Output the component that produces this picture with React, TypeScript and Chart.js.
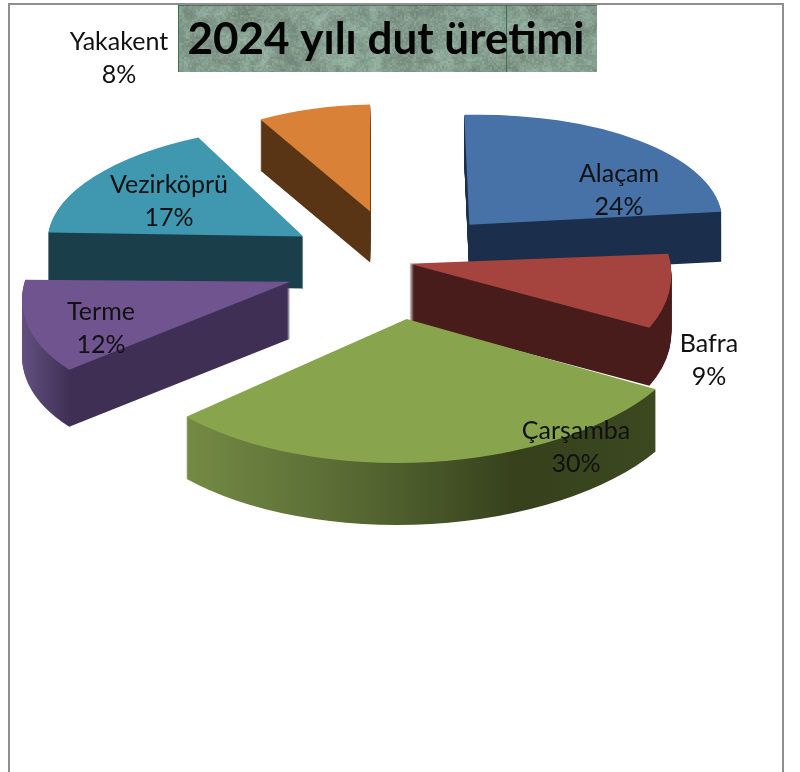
import React, { useEffect, useRef } from "react";
import { Chart, registerables } from "chart.js";

Chart.register(...registerables);

const TITLE = "2024 yılı dut üretimi";
const categories = ["Alaçam", "Bafra", "Çarşamba", "Terme", "Vezirköprü", "Yakakent"];
const shares = [24, 9, 30, 12, 17, 8];
const topColors = ["#4672a8", "#a5433f", "#88a44c", "#70548f", "#3f97b0", "#d98137"];

// 3D look: explode distance, nudge, wall height, perspective lens [a, c, b, d] per slice, paint order
const explode = [110, 27, 117, 102, 96, 100];
const nudge = [[8, 3], [-3, -1], [6, -1], [-1, 1], [0, -1], [9, -2]];
const wallDepth = [50, 58, 62, 57, 52, 51];
const lens = [
  [252.8, -6.1, 5, 110],
  [261, -1.5, 23.5, 135.5],
  [291, 1, -12, 144],
  [265, 2, -40.6, 130.8],
  [255, 4, -20.4, 110.8],
  [227.7, -3.6, 0, 107],
];
const paintOrder = [5, 4, 0, 3, 1, 2];
const BASE_TILT = 0.5;
const RADIUS = 260;

// wall gradient stops: [device x, colour]
const wallStops: [number, string][][] = [
  [[0, "#1b2e4b"], [800, "#1b2e4b"]],
  [[0, "#471c1a"], [800, "#471c1a"]],
  [[188, "#738a44"], [350, "#586a33"], [515, "#36411c"], [655, "#3b4820"]],
  [[22, "#63507f"], [70, "#3f2f54"], [290, "#3f2f54"]],
  [[0, "#1a3f4a"], [800, "#1a3f4a"]],
  [[0, "#5a3515"], [800, "#5a3515"]],
];

const labelCentres = [
  [619, 174], [709, 344], [576, 431], [101, 312], [169, 185], [119, 42],
];

function paintTexture(ctx: CanvasRenderingContext2D, x: number, y: number, w: number, h: number) {
  const hash = (a: number, b: number) => {
    const s = Math.sin(a * 127.1 + b * 311.7) * 43758.5453;
    return s - Math.floor(s);
  };
  ctx.save();
  ctx.beginPath();
  ctx.rect(x, y, w, h);
  ctx.clip();
  ctx.fillStyle = "#83a090";
  ctx.fillRect(x, y, w, h);
  for (const [step, amp, blur] of [[16, 30, 6], [6, 24, 2], [2, 14, 0.7]] as number[][]) {
    ctx.filter = `blur(${blur}px)`;
    for (let i = -step; i < w + step; i += step) {
      for (let j = -step; j < h + step; j += step) {
        const n = hash(i + step, j + step * 3) - 0.5;
        ctx.fillStyle = n > 0
          ? `rgba(180,205,190,${(n * amp) / 30})`
          : `rgba(105,115,105,${(-n * amp) / 30})`;
        ctx.fillRect(x + i, y + j, step, step);
      }
    }
  }
  ctx.filter = "none";
  ctx.fillStyle = "#3f6f55";
  ctx.fillRect(x, y, 1, h);
  ctx.fillRect(x + 328, y, 1, h);
  ctx.fillStyle = "rgba(70,90,80,0.7)";
  ctx.fillRect(x, y, w, 1);
  ctx.restore();
}

const frame3d = {
  id: "frame3d",
  beforeDraw(chart: any) {
    const { ctx } = chart;
    ctx.save();
    ctx.fillStyle = "#ffffff";
    ctx.fillRect(0, 0, 800, 772);
    ctx.strokeStyle = "#8e8e8e";
    ctx.lineWidth = 2;
    ctx.strokeRect(9, 4, 774, 900);
    paintTexture(ctx, 178, 5, 419, 67);
    ctx.restore();
  },
  beforeDatasetDraw(chart: any) {
    const { ctx } = chart;
    const arcs = chart.getDatasetMeta(0).data;
    const apexOf = (arc: any, i: number) => {
      const mid = (arc.startAngle + arc.endAngle) / 2;
      return [
        arc.x + Math.cos(mid) * explode[i] + nudge[i][0],
        arc.y + Math.sin(mid) * explode[i] * BASE_TILT + nudge[i][1],
      ];
    };
    const place = (arc: any, i: number, dy: number) => {
      const [ax, ay] = apexOf(arc, i);
      const [a, c, b, d] = lens[i];
      ctx.transform(a / RADIUS, c / RADIUS, b / RADIUS, d / RADIUS, ax, ay + dy);
      ctx.translate(-arc.x, -arc.y);
    };
    for (const i of paintOrder) {
      const arc = arcs[i];
      const own = arc.options;
      const [ax] = apexOf(arc, i);
      const [a, , b] = lens[i];
      // gradient whose isolines are constant device x under the slice's transform
      const toUser = (x: number) => {
        const t = ((x - ax) * RADIUS) / (a * a + b * b);
        return [arc.x + t * a, arc.y + t * b];
      };
      const stops = wallStops[i];
      const x0 = stops[0][0];
      const x1 = stops[stops.length - 1][0];
      const [p0x, p0y] = toUser(x0);
      const [p1x, p1y] = toUser(x1);
      const grad = ctx.createLinearGradient(p0x, p0y, p1x, p1y);
      stops.forEach(([x, c]) => grad.addColorStop((x - x0) / (x1 - x0), c));
      arc.options = Object.create(own, { backgroundColor: { value: grad } });
      for (let d = wallDepth[i]; d >= 1; d--) {
        ctx.save();
        place(arc, i, d);
        arc.draw(ctx);
        ctx.restore();
      }
      arc.options = own;
      ctx.save();
      place(arc, i, 0);
      arc.draw(ctx);
      ctx.restore();
    }
    return false;
  },
  afterDatasetsDraw(chart: any) {
    const { ctx } = chart;
    ctx.save();
    ctx.fillStyle = "#111111";
    ctx.font = "25px Lato";
    ctx.textAlign = "center";
    ctx.textBaseline = "middle";
    categories.forEach((name, i) => {
      const [x, y] = labelCentres[i];
      ctx.fillText(name, x, y);
      ctx.fillText(shares[i] + "%", x, y + 33);
    });
    ctx.restore();
  },
};

export default function App() {
  const ref = useRef<HTMLCanvasElement>(null);
  useEffect(() => {
    const chart = new Chart(ref.current!, {
      type: "pie",
      data: {
        labels: categories,
        datasets: [{ data: shares, backgroundColor: topColors, borderWidth: 0 }],
      },
      options: {
        animation: false,
        responsive: false,
        radius: RADIUS,
        layout: { padding: { top: 5, left: 0, right: 28, bottom: 320 } },
        plugins: {
          legend: { display: false },
          tooltip: { enabled: false },
          title: {
            display: true,
            text: TITLE,
            color: "#050505",
            font: { family: "Lato", size: 44, weight: "bold", lineHeight: 1.2 },
            padding: { top: 8, bottom: 6 },
          },
        },
      } as any,
      plugins: [frame3d],
    });
    return () => chart.destroy();
  }, []);
  return (
    <canvas
      ref={ref}
      width={800}
      height={772}
      style={{ position: "absolute", left: 0, top: 0, width: 800, height: 772 }}
    />
  );
}
